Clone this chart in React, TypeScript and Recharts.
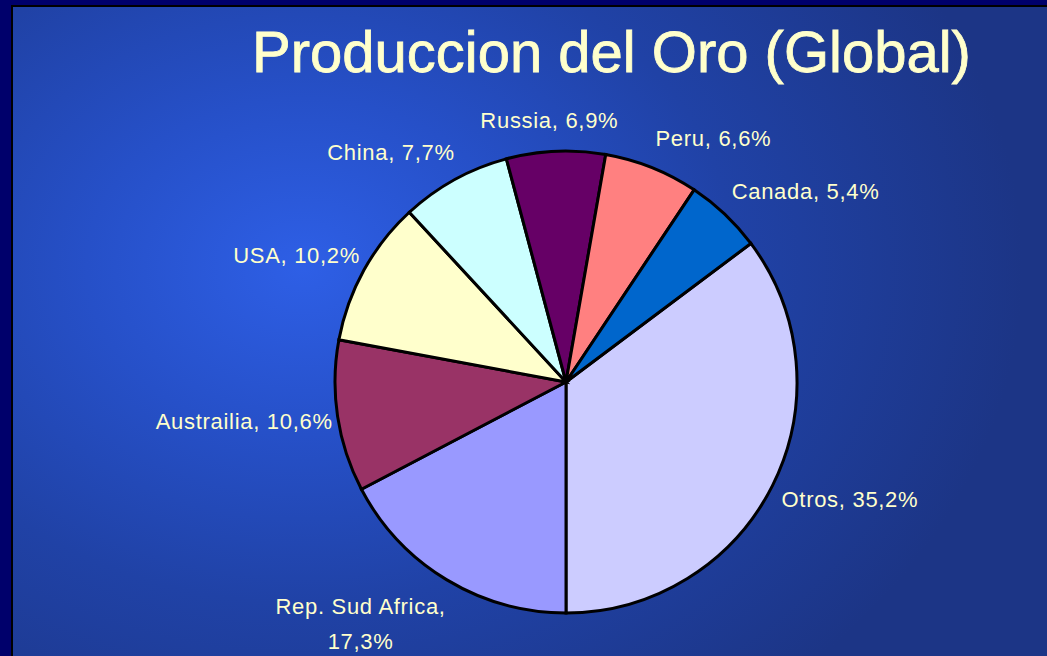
import { PieChart, Pie, Cell } from 'recharts';

const categories = ['Otros', 'Rep. Sud Africa', 'Austrailia', 'USA', 'China', 'Russia', 'Peru', 'Canada'];
const shares = [35.2, 17.3, 10.6, 10.2, 7.7, 6.9, 6.6, 5.4];
const sliceColors = ['#CCCCFF', '#9999FF', '#993366', '#FFFFCC', '#CCFFFF', '#660066', '#FF8080', '#0066CC'];
// labels Excel broke onto two lines
const wrapped = ['Rep. Sud Africa'];

const data = categories.map((name, i) => ({ name, value: shares[i] }));

const W = 1047;
const H = 656;
const RADIAN = Math.PI / 180;
const labelFont = '22px "Liberation Sans", Arial, sans-serif';
const letterSp = 0.7;
const textColor = '#FFFFCC';

let ctx: CanvasRenderingContext2D | null = null;
function measure(s: string) {
  if (!ctx) {
    ctx = document.createElement('canvas').getContext('2d');
    if (ctx) ctx.font = labelFont;
  }
  const w = ctx ? ctx.measureText(s).width : s.length * 11;
  return w + s.length * letterSp;
}

function renderLabel(props: any) {
  const { cx, cy, midAngle, outerRadius, name, value } = props;
  const cos = Math.cos(midAngle * RADIAN);
  const sin = Math.sin(midAngle * RADIAN);
  const r = outerRadius + 10;
  const px = cx + r * cos;
  const py = cy - r * sin;
  const pct = String(value).replace('.', ',') + '%';
  const lines = wrapped.includes(name) ? [name + ',', pct] : [`${name}, ${pct}`];
  const gap = 35;
  const blockW = Math.max(...lines.map(measure));
  let x = px - 6;
  if (cos > 0.15) x = px + blockW / 2;
  else if (cos < -0.15) x = px + 5 - blockW / 2;
  let y0 = py - 21 * sin;
  if (sin > 0) y0 -= (lines.length - 1) * gap;
  return (
    <g>
      {lines.map((l, i) => (
        <text
          key={i}
          x={x}
          y={y0 + i * gap}
          textAnchor="middle"
          dominantBaseline="central"
          fill={textColor}
          fontSize={22}
          letterSpacing={letterSp}
          fontFamily='"Liberation Sans", Arial, sans-serif'
        >
          {l}
        </text>
      ))}
    </g>
  );
}

export default function App() {
  return (
    <div style={{ position: 'fixed', left: 0, top: 0, width: W, height: H, background: '#00006b', overflow: 'hidden' }}>
      <div
        style={{
          position: 'absolute',
          left: 11,
          top: 5,
          width: W - 11,
          height: H - 5,
          boxSizing: 'border-box',
          borderTop: '2px solid #000',
          borderLeft: '2px solid #000',
          background:
            'radial-gradient(ellipse 720px 560px at 290px 260px, #2e5fe6 0%, #2650c8 30%, #2042a6 60%, #1c3586 100%)',
        }}
      />
      <svg width={W} height={H} style={{ position: 'absolute', left: 0, top: 0 }}>
        <text
          x={252}
          y={72}
          fill={textColor}
          stroke={textColor}
          strokeWidth={0.8}
          fontSize={58}
          fontFamily='"Liberation Sans", Arial, sans-serif'
        >
          Produccion del Oro (Global)
        </text>
      </svg>
      <div style={{ position: 'absolute', left: 0, top: 0 }}>
        <PieChart width={W} height={H} margin={{ top: 0, right: 0, bottom: 0, left: 0 }}>
          <Pie
            data={data}
            dataKey="value"
            nameKey="name"
            cx={566}
            cy={382}
            outerRadius={231}
            startAngle={36.85}
            endAngle={-323.15}
            stroke="#000"
            strokeWidth={3}
            label={renderLabel}
            labelLine={false}
            isAnimationActive={false}
          >
            {data.map((d, i) => (
              <Cell key={d.name} fill={sliceColors[i]} />
            ))}
          </Pie>
        </PieChart>
      </div>
    </div>
  );
}
